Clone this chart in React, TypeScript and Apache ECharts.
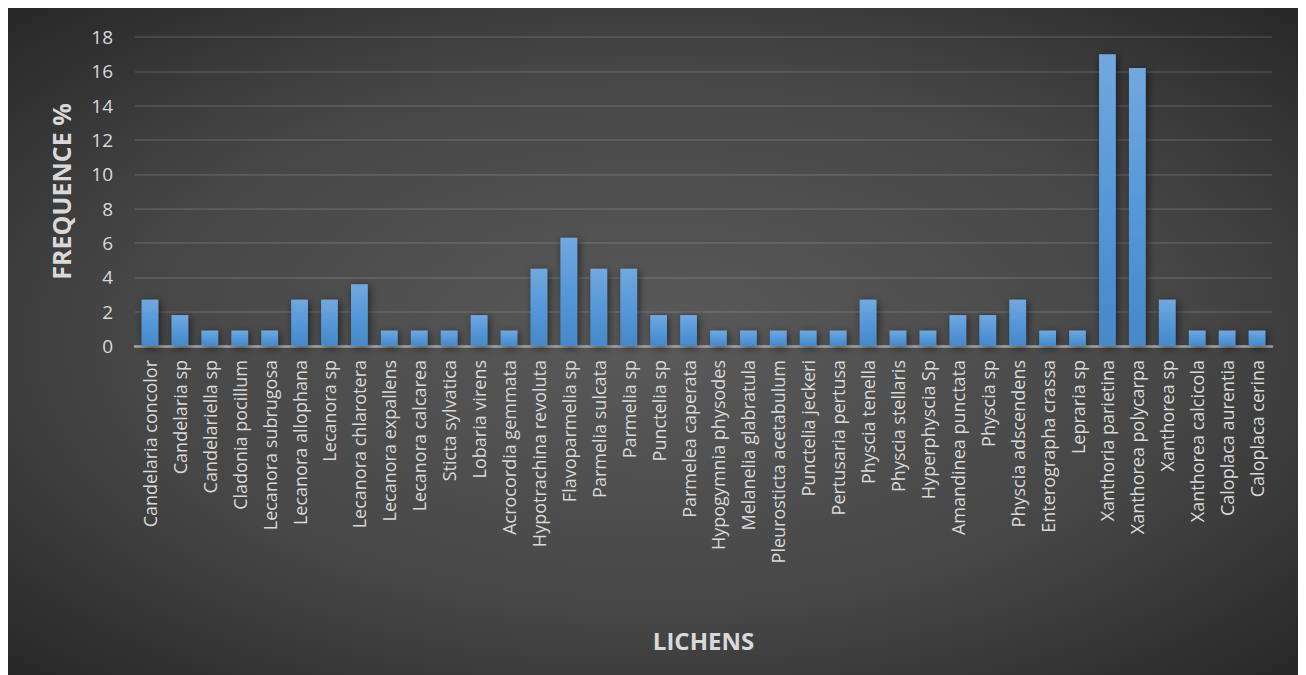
import React, { useEffect, useRef } from "react";
import * as echarts from "echarts";

const categories: string[] = [
  "Candelaria concolor",
  "Candelaria sp",
  "Candelariella sp",
  "Cladonia pocillum",
  "Lecanora subrugosa",
  "Lecanora allophana",
  "Lecanora sp",
  "Lecanora chlarotera",
  "Lecanora expallens",
  "Lecanora calcarea",
  "Sticta sylvatica",
  "Lobaria virens",
  "Acrocordia gemmata",
  "Hypotrachina revoluta",
  "Flavoparmelia sp",
  "Parmelia sulcata",
  "Parmelia sp",
  "Punctelia sp",
  "Parmelea caperata",
  "Hypogymnia physodes",
  "Melanelia glabratula",
  "Pleurosticta acetabulum",
  "Punctelia jeckeri",
  "Pertusaria pertusa",
  "Physcia tenella",
  "Physcia stellaris",
  "Hyperphyscia Sp",
  "Amandinea punctata",
  "Physcia sp",
  "Physcia adscendens",
  "Enterographa crassa",
  "Lepraria sp",
  "Xanthoria parietina",
  "Xanthorea polycarpa",
  "Xanthorea sp",
  "Xanthorea calcicola",
  "Caloplaca aurentia",
  "Caloplaca cerina",
];

const frequence: number[] = [
  2.7, 1.8, 0.9, 0.9, 0.9, 2.7, 2.7, 3.6, 0.9, 0.9, 0.9, 1.8, 0.9, 4.5, 6.3,
  4.5, 4.5, 1.8, 1.8, 0.9, 0.9, 0.9, 0.9, 0.9, 2.7, 0.9, 0.9, 1.8, 1.8, 2.7,
  0.9, 0.9, 17.0, 16.2, 2.7, 0.9, 0.9, 0.9,
];

const yMin = 0;
const yMax = 18;
const yInterval = 2;

const xAxisTitle = "LICHENS";
const yAxisTitle = "FREQUENCE %";

export default function App() {
  const ref = useRef<HTMLDivElement>(null);

  useEffect(() => {
    if (!ref.current) return;
    const chart = echarts.init(ref.current, undefined, { renderer: "svg" });
    const font = "'Open Sans', 'Noto Sans', sans-serif";
    chart.setOption({
      animation: false,
      backgroundColor: {
        type: "radial",
        x: 0.5,
        y: 0.5,
        r: 0.75,
        colorStops: [
          { offset: 0, color: "#5a5a5a" },
          { offset: 0.55, color: "#464646" },
          { offset: 1, color: "#232323" },
        ],
      },
      textStyle: { fontFamily: font },
      grid: { left: 127, right: 30, top: 29, bottom: 329 },
      xAxis: {
        type: "category",
        data: categories,
        name: xAxisTitle,
        nameLocation: "middle",
        nameGap: 282,
        nameTextStyle: {
          color: "#d9d9d9",
          fontSize: 24,
          fontWeight: "bold",
          fontFamily: font,
        },
        axisLine: { show: true, lineStyle: { color: "#a6a6a6", width: 2.5 } },
        axisTick: { show: false },
        axisLabel: {
          interval: 0,
          rotate: 90,
          color: "#d9d9d9",
          fontSize: 18,
          margin: 14,
          fontFamily: font,
        },
      },
      yAxis: {
        type: "value",
        min: yMin,
        max: yMax,
        interval: yInterval,
        name: yAxisTitle,
        nameLocation: "middle",
        nameRotate: 90,
        nameGap: 62,
        nameTextStyle: {
          color: "#d9d9d9",
          fontSize: 25,
          fontWeight: "bold",
          fontFamily: font,
        },
        axisLine: { show: false },
        axisTick: { show: false },
        axisLabel: {
          color: "#d9d9d9",
          fontSize: 19,
          margin: 22,
          fontFamily: font,
        },
        splitLine: {
          lineStyle: { color: "rgba(255,255,255,0.1)", width: 2 },
        },
      },
      series: [
        {
          type: "bar",
          data: frequence,
          barCategoryGap: "44%",
          itemStyle: {
            color: {
              type: "linear",
              x: 0,
              y: 0,
              x2: 0,
              y2: 1,
              colorStops: [
                { offset: 0, color: "#72a8de" },
                { offset: 0.5, color: "#5598d9" },
                { offset: 1, color: "#4688c8" },
              ],
            },
            shadowBlur: 8,
            shadowColor: "rgba(0,0,0,0.55)",
            shadowOffsetX: 2,
            shadowOffsetY: 2,
          },
        },
      ],
    });
    return () => chart.dispose();
  }, []);

  return <div ref={ref} style={{ width: 1294, height: 667 }} />;
}
